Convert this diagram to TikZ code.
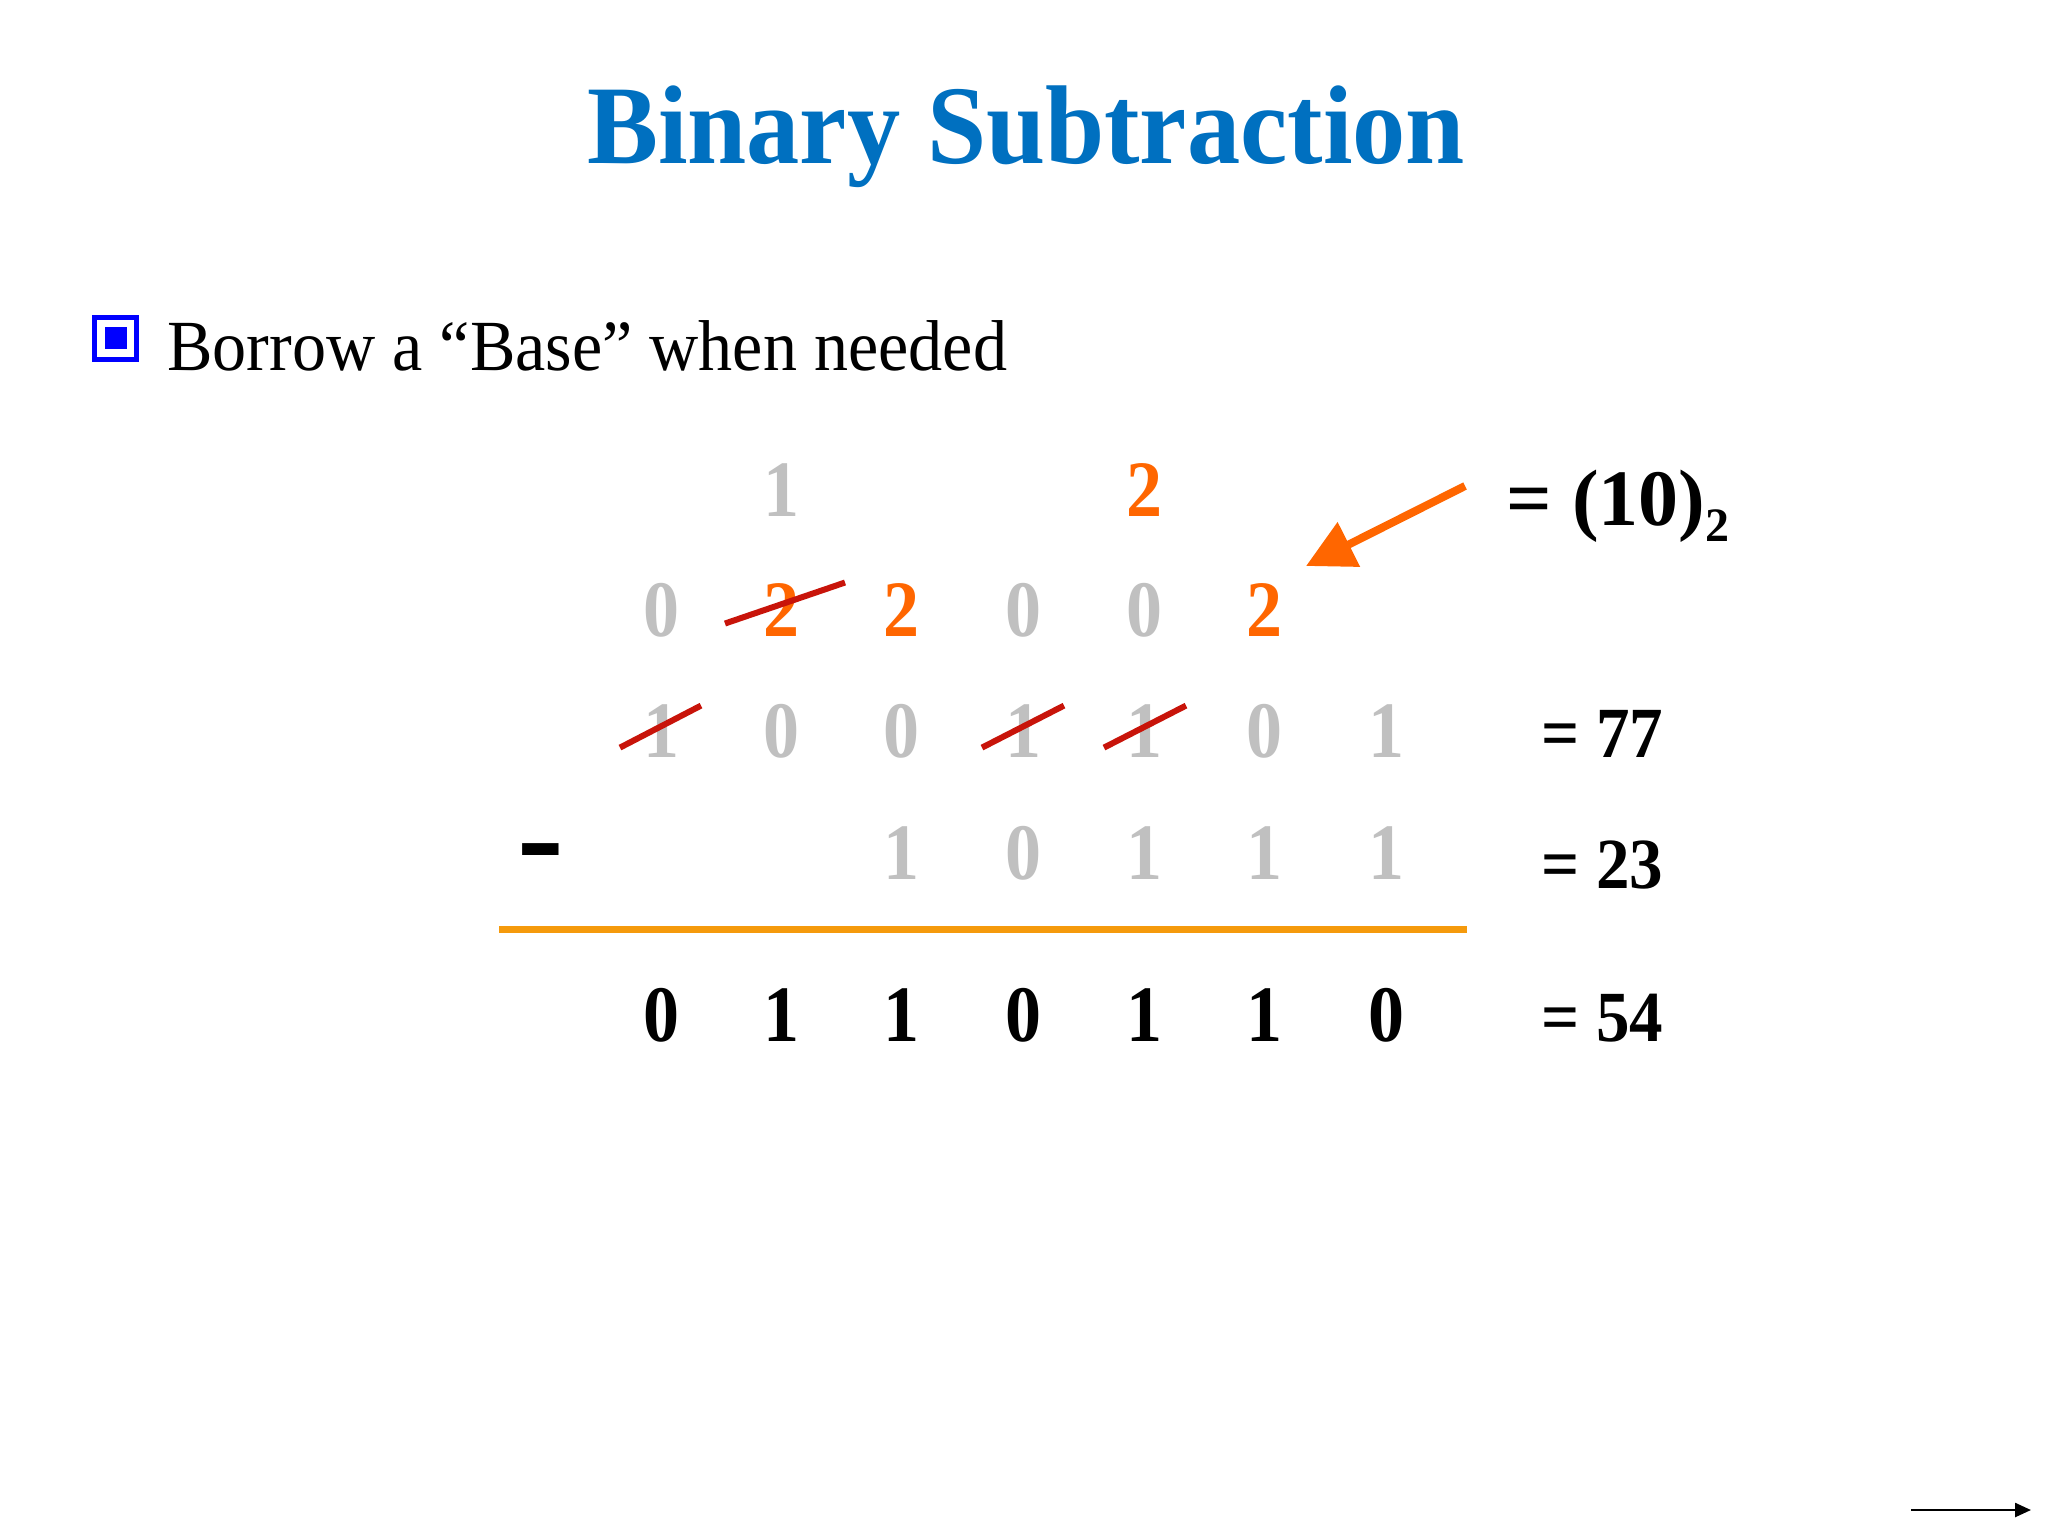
\documentclass[tikz,border=0pt]{standalone}
\usepackage{fontspec}
\setmainfont{Liberation Serif}
\usetikzlibrary{arrows.meta,calc}
\definecolor{titleblue}{RGB}{0,112,192}
\definecolor{dgray}{RGB}{192,192,192}
\definecolor{borange}{RGB}{255,102,0}
\definecolor{lorange}{RGB}{245,154,12}
\definecolor{xred}{RGB}{200,20,10}
\definecolor{bulletblue}{RGB}{0,0,255}
\newcommand{\cond}[1]{\scalebox{0.9}[1]{#1}}
\begin{document}
\begin{tikzpicture}[x=0.5pt,y=-0.5pt,
  dig/.style={inner sep=0pt, anchor=base, font=\fontsize{40}{40}\selectfont\bfseries},
  graydig/.style={dig, text=dgray},
  orangedig/.style={dig, text=borange},
  resdig/.style={dig, text=black},
  eqlabel/.style={inner sep=0pt, anchor=base west, font=\fontsize{36}{36}\selectfont\bfseries},
  strike/.style={draw=xred, line width=3pt},
]
\useasboundingbox[fill=white] (0,0) rectangle (2048,1536);

% title
\node[inner sep=0pt, anchor=base, text=titleblue, font=\fontsize{56}{56}\selectfont\bfseries]
  (title) at (1026,163) {\scalebox{0.95}[1]{Binary Subtraction}};

% bullet
\node[draw=bulletblue, line width=2.5pt, minimum size=21pt, inner sep=0pt] (bulletbox) at (115.5,338) {};
\node[fill=bulletblue, minimum size=11pt, inner sep=0pt] (bulletin) at (bulletbox.center) {};
\node[inner sep=0pt, anchor=base west, font=\fontsize{36}{36}\selectfont]
  (bullettext) at (167,370) {\scalebox{0.946}[1]{Borrow a “Base” when needed}};

% columns x: 661 781 901 1023 1144 1264 1386
% row 1
\node[graydig] (r1c2) at (781,516) {\cond{1}};
\node[orangedig] (r1c5) at (1144,516) {\cond{2}};
% row 2
\node[graydig] (r2c1) at (661,636) {\cond{0}};
\node[orangedig] (r2c2) at (781,636) {\cond{2}};
\node[orangedig] (r2c3) at (901,636) {\cond{2}};
\node[graydig] (r2c4) at (1023,636) {\cond{0}};
\node[graydig] (r2c5) at (1144,636) {\cond{0}};
\node[orangedig] (r2c6) at (1264,636) {\cond{2}};
% row 3
\node[graydig] (r3c1) at (661,757) {\cond{1}};
\node[graydig] (r3c2) at (781,757) {\cond{0}};
\node[graydig] (r3c3) at (901,757) {\cond{0}};
\node[graydig] (r3c4) at (1023,757) {\cond{1}};
\node[graydig] (r3c5) at (1144,757) {\cond{1}};
\node[graydig] (r3c6) at (1264,757) {\cond{0}};
\node[graydig] (r3c7) at (1386,757) {\cond{1}};
% row 4
\node[graydig] (r4c3) at (901,879) {\cond{1}};
\node[graydig] (r4c4) at (1023,879) {\cond{0}};
\node[graydig] (r4c5) at (1144,879) {\cond{1}};
\node[graydig] (r4c6) at (1264,879) {\cond{1}};
\node[graydig] (r4c7) at (1386,879) {\cond{1}};
% minus sign
\node[inner sep=0pt, anchor=base, font=\fontsize{70}{70}\selectfont\bfseries] (minus) at (541,882) {-};
% result
\node[resdig] (r5c1) at (661,1041) {\cond{0}};
\node[resdig] (r5c2) at (781,1041) {\cond{1}};
\node[resdig] (r5c3) at (901,1041) {\cond{1}};
\node[resdig] (r5c4) at (1023,1041) {\cond{0}};
\node[resdig] (r5c5) at (1144,1041) {\cond{1}};
\node[resdig] (r5c6) at (1264,1041) {\cond{1}};
\node[resdig] (r5c7) at (1386,1041) {\cond{0}};

% sum line
\coordinate (lineL) at (499,929);
\coordinate (lineR) at (1467,929);
\draw[lorange, line width=3.5pt] (lineL) -- (lineR);

% strikes
\draw[strike] ($(r2c2.center)+(-56,14)$) -- ($(r2c2.center)+(64,-27)$);
\draw[strike] ($(r3c1.center)+(-41,17)$) -- ($(r3c1.center)+(40,-25)$);
\draw[strike] ($(r3c4.center)+(-41,17)$) -- ($(r3c4.center)+(41,-25)$);
\draw[strike] ($(r3c5.center)+(-40,17)$) -- ($(r3c5.center)+(42,-25)$);

% labels
\node[inner sep=0pt, anchor=base west, font=\fontsize{40}{40}\selectfont\bfseries]
  (lab10) at (1506,525) {= (10)\raisebox{-8pt}{\fontsize{24}{24}\selectfont 2}};
\node[eqlabel] (lab77) at (1541,757) {\scalebox{0.93}[1]{= 77}};
\node[eqlabel] (lab23) at (1541,888) {\scalebox{0.93}[1]{= 23}};
\node[eqlabel] (lab54) at (1541,1041) {\scalebox{0.93}[1]{= 54}};

% orange arrow
\coordinate (arrS) at (1465,486);
\coordinate (arrE) at (1306,566);
\draw[borange, line width=4pt, -{Triangle[length=24pt,width=24pt]}] (arrS) -- (arrE);

% next arrow bottom right
\coordinate (nextS) at (1911,1510);
\coordinate (nextE) at (2031,1510);
\draw[black, line width=1.2pt, -{Triangle[length=8pt,width=7pt]}] (nextS) -- (nextE);
\end{tikzpicture}
\end{document}
